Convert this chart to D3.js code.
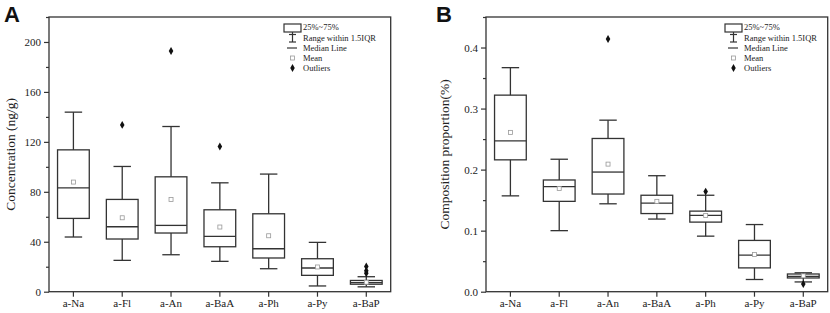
<!DOCTYPE html>
<html>
<head>
<meta charset="utf-8">
<script src="https://cdn.jsdelivr.net/npm/d3@7"></script>
<style>
  body { margin: 0; background: #fff; }
  svg { display: block; }
</style>
</head>
<body>
<div id="container"></div>
<script>
let w = 830;
let h = 313;

let categories = ["a-Na", "a-Fl", "a-An", "a-BaA", "a-Ph", "a-Py", "a-BaP"];

// panel A: concentration (ng/g)
let concWhiskerLow = [43.8, 25.1, 29.6, 24.3, 18.4, 4.6, 3.9];
let concQ1 = [58.7, 42.2, 47.0, 36.0, 27.0, 13.1, 6.0];
let concMedian = [83.2, 52.0, 53.1, 44.3, 34.4, 19.0, 7.2];
let concQ3 = [113.6, 73.9, 92.0, 65.6, 62.4, 26.4, 9.0];
let concWhiskerHigh = [143.8, 100.3, 132.3, 87.2, 94.2, 39.5, 12.0];
let concMean = [87.8, 59.2, 73.9, 51.8, 44.8, 19.8, 7.6];
let concOutliers = [[], [133.6], [192.8], [116.3], [], [], [20.2, 16.8, 14.8]];
let concTicks = [0, 40, 80, 120, 160, 200];

// panel B: composition proportion (%)
let propWhiskerLow = [0.157, 0.100, 0.144, 0.119, 0.091, 0.020, 0.016];
let propQ1 = [0.216, 0.148, 0.160, 0.128, 0.114, 0.039, 0.0225];
let propMedian = [0.247, 0.172, 0.196, 0.145, 0.125, 0.060, 0.025];
let propQ3 = [0.322, 0.183, 0.251, 0.158, 0.132, 0.084, 0.029];
let propWhiskerHigh = [0.367, 0.217, 0.281, 0.190, 0.158, 0.110, 0.031];
let propMean = [0.261, 0.169, 0.209, 0.148, 0.125, 0.061, 0.026];
let propOutliers = [[], [], [0.414], [], [0.164], [], [0.0125]];
let propTicks = [0.0, 0.1, 0.2, 0.3, 0.4];

let legendLabels = ["25%~75%", "Range within 1.5IQR", "Median Line", "Mean", "Outliers"];

let serif = "'Liberation Serif', 'Times New Roman', serif";
let ink = "#333";

let viz = d3.select("#container")
  .append("svg")
  .attr("width", w)
  .attr("height", h)
  .style("background-color", "#fff");

function drawPanel(opt) {
  let g = viz.append("g");
  let xScale = d3.scaleBand().domain(categories).range([opt.left, opt.right]);
  let yScale = d3.scaleLinear().domain(opt.domain).range([opt.bottom, opt.top]);
  let bw = xScale.bandwidth() * 0.65;
  let capW = bw * 0.55;

  // frame
  g.append("rect")
    .attr("x", opt.left).attr("y", opt.top)
    .attr("width", opt.right - opt.left).attr("height", opt.bottom - opt.top)
    .attr("fill", "none").attr("stroke", ink).attr("stroke-width", 1.3);

  // y axis with minor ticks
  let minor = [];
  for (let i = 0; i < opt.ticks.length - 1; i++) minor.push((opt.ticks[i] + opt.ticks[i + 1]) / 2);
  minor.push(opt.ticks[opt.ticks.length - 1] + (opt.ticks[1] - opt.ticks[0]) / 2);
  minor = minor.filter(v => v <= opt.domain[1]);

  let yAxis = g.append("g")
    .attr("transform", "translate(" + opt.left + ",0)")
    .call(d3.axisLeft(yScale).tickValues(opt.ticks).tickFormat(opt.fmt).tickSize(5).tickPadding(3));
  yAxis.select(".domain").remove();
  yAxis.selectAll("line").attr("stroke", ink).attr("stroke-width", 1.2);
  yAxis.selectAll("text").attr("font-family", serif).attr("font-size", 11).attr("fill", "#222");

  let yMinor = g.append("g")
    .attr("transform", "translate(" + opt.left + ",0)")
    .call(d3.axisLeft(yScale).tickValues(minor).tickFormat("").tickSize(3));
  yMinor.select(".domain").remove();
  yMinor.selectAll("line").attr("stroke", ink).attr("stroke-width", 1.2);

  let xAxis = g.append("g")
    .attr("transform", "translate(0," + opt.bottom + ")")
    .call(d3.axisBottom(xScale).tickSize(5).tickPadding(3));
  xAxis.select(".domain").remove();
  xAxis.selectAll("line").attr("stroke", ink).attr("stroke-width", 1.2);
  xAxis.selectAll("text").attr("font-family", serif).attr("font-size", 11).attr("fill", "#222");

  // axis title
  g.append("text")
    .attr("transform", "translate(" + opt.titleX + "," + ((opt.top + opt.bottom) / 2) + ") rotate(-90)")
    .attr("text-anchor", "middle")
    .attr("font-family", serif).attr("font-size", 13.5).attr("fill", "#222")
    .text(opt.title);

  // panel letter
  g.append("text")
    .attr("x", opt.letterX).attr("y", 22)
    .attr("font-family", "'Liberation Sans', Arial, sans-serif")
    .attr("font-weight", "bold").attr("font-size", 22).attr("fill", "#111")
    .text(opt.letter);

  // boxes
  let boxes = g.selectAll(".box")
    .data(categories.map((c, i) => ({
      cat: c, lo: opt.lo[i], q1: opt.q1[i], med: opt.med[i], q3: opt.q3[i],
      hi: opt.hi[i], mean: opt.mean[i], out: opt.out[i]
    })))
    .enter().append("g").attr("class", "box")
    .attr("transform", d => "translate(" + (xScale(d.cat) + xScale.bandwidth() / 2) + ",0)");

  boxes.append("line")
    .attr("x1", 0).attr("x2", 0)
    .attr("y1", d => yScale(d.hi)).attr("y2", d => yScale(d.q3))
    .attr("stroke", ink).attr("stroke-width", 1.3);
  boxes.append("line")
    .attr("x1", 0).attr("x2", 0)
    .attr("y1", d => yScale(d.q1)).attr("y2", d => yScale(d.lo))
    .attr("stroke", ink).attr("stroke-width", 1.3);
  boxes.append("line")
    .attr("x1", -capW / 2).attr("x2", capW / 2)
    .attr("y1", d => yScale(d.hi)).attr("y2", d => yScale(d.hi))
    .attr("stroke", ink).attr("stroke-width", 1.3);
  boxes.append("line")
    .attr("x1", -capW / 2).attr("x2", capW / 2)
    .attr("y1", d => yScale(d.lo)).attr("y2", d => yScale(d.lo))
    .attr("stroke", ink).attr("stroke-width", 1.3);
  boxes.append("rect")
    .attr("x", -bw / 2).attr("width", bw)
    .attr("y", d => yScale(d.q3))
    .attr("height", d => yScale(d.q1) - yScale(d.q3))
    .attr("fill", "none").attr("stroke", ink).attr("stroke-width", 1.3);
  boxes.append("line")
    .attr("x1", -bw / 2).attr("x2", bw / 2)
    .attr("y1", d => yScale(d.med)).attr("y2", d => yScale(d.med))
    .attr("stroke", ink).attr("stroke-width", 1.3);
  boxes.append("rect")
    .attr("x", -2).attr("width", 4)
    .attr("y", d => yScale(d.mean) - 2).attr("height", 4)
    .attr("fill", "#fff").attr("stroke", "#999").attr("stroke-width", 0.8);
  boxes.selectAll(".out")
    .data(d => d.out)
    .enter().append("path")
    .attr("class", "out")
    .attr("transform", v => "translate(0," + yScale(v) + ")")
    .attr("d", d3.symbol(d3.symbolDiamond, 18))
    .attr("fill", "#111");

  // legend
  let lg = g.append("g");
  let lx = opt.legendX;
  let ly = [27, 38, 48, 58, 68];
  lg.append("rect")
    .attr("x", lx).attr("y", 24).attr("width", 17).attr("height", 8)
    .attr("fill", "none").attr("stroke", ink).attr("stroke-width", 1.2);
  lg.append("line").attr("x1", lx + 8.5).attr("x2", lx + 8.5).attr("y1", 32).attr("y2", 42)
    .attr("stroke", ink).attr("stroke-width", 1.2);
  lg.append("line").attr("x1", lx + 5).attr("x2", lx + 12).attr("y1", 34.5).attr("y2", 34.5)
    .attr("stroke", ink).attr("stroke-width", 1.2);
  lg.append("line").attr("x1", lx + 5).attr("x2", lx + 12).attr("y1", 42).attr("y2", 42)
    .attr("stroke", ink).attr("stroke-width", 1.2);
  lg.append("line").attr("x1", lx + 3).attr("x2", lx + 13).attr("y1", ly[2]).attr("y2", ly[2])
    .attr("stroke", ink).attr("stroke-width", 1.2);
  lg.append("rect").attr("x", lx + 6.5).attr("y", ly[3] - 2).attr("width", 4).attr("height", 4)
    .attr("fill", "#fff").attr("stroke", "#999").attr("stroke-width", 0.8);
  lg.append("path").attr("transform", "translate(" + (lx + 8.5) + "," + ly[4] + ")")
    .attr("d", d3.symbol(d3.symbolDiamond, 18)).attr("fill", "#111");
  lg.selectAll(".lt")
    .data(legendLabels)
    .enter().append("text")
    .attr("class", "lt")
    .attr("x", lx + 19)
    .attr("y", (d, i) => ly[i] + 3)
    .attr("font-family", serif).attr("font-size", 8.5).attr("fill", "#222")
    .text(d => d);
}

drawPanel({
  left: 49, right: 390.7, top: 17, bottom: 291.7,
  domain: [0, 220], ticks: concTicks, fmt: d3.format("d"),
  lo: concWhiskerLow, q1: concQ1, med: concMedian, q3: concQ3, hi: concWhiskerHigh,
  mean: concMean, out: concOutliers,
  title: "Concentration (ng/g)", titleX: 15, letter: "A", letterX: 4, legendX: 284
});

drawPanel({
  left: 486, right: 827.7, top: 17, bottom: 291.7,
  domain: [0, 0.45], ticks: propTicks, fmt: d3.format(".1f"),
  lo: propWhiskerLow, q1: propQ1, med: propMedian, q3: propQ3, hi: propWhiskerHigh,
  mean: propMean, out: propOutliers,
  title: "Composition proportion(%)", titleX: 449, letter: "B", letterX: 436, legendX: 725
});
</script>
</body>
</html>
